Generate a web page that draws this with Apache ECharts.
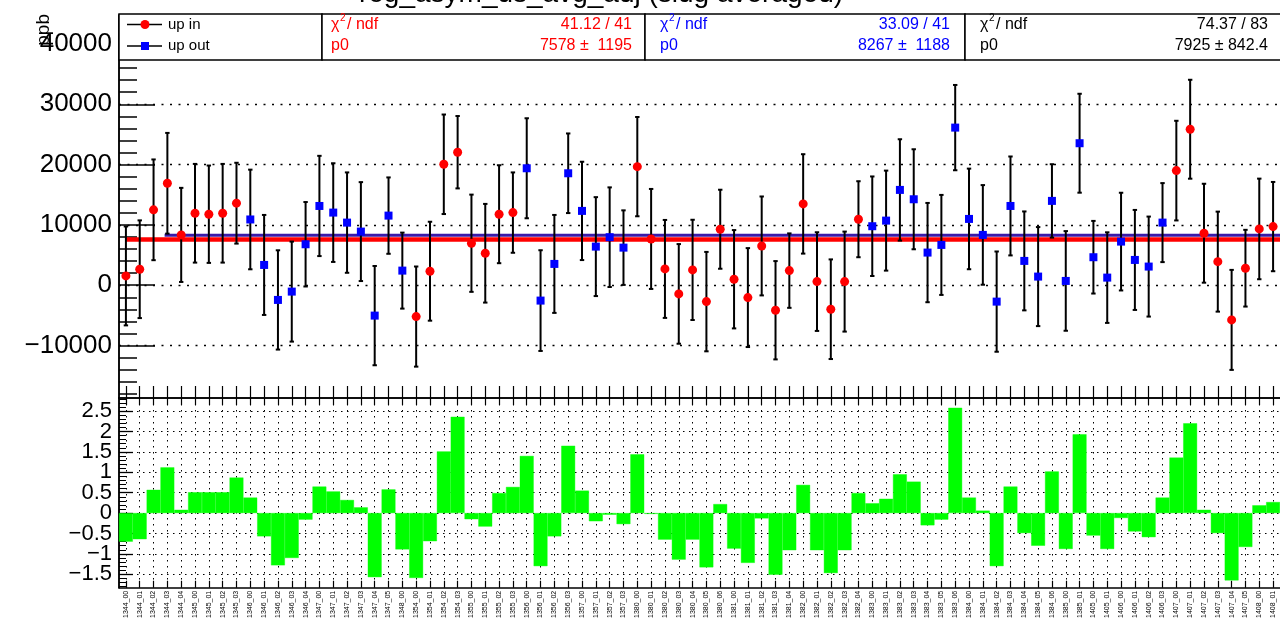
<!DOCTYPE html>
<html><head><meta charset="utf-8">
<script src="https://cdn.jsdelivr.net/npm/echarts@6/dist/echarts.min.js"></script>
<style>html,body{margin:0;padding:0;background:#fff;overflow:hidden}#c{width:1280px;height:621px}</style>
</head><body><div id="c"></div>
<script>
// ---------------- data ----------------
const categories = [
 '1344_00','1344_01','1344_02','1344_03','1344_04','1345_00','1345_01','1345_02','1345_03',
 '1346_00','1346_01','1346_02','1346_03','1346_04','1347_00','1347_01','1347_02','1347_03','1347_04','1347_05','1348_00',
 '1354_00','1354_01','1354_02','1354_03','1355_00','1355_01','1355_02','1355_03',
 '1356_00','1356_01','1356_02','1356_03','1357_00','1357_01','1357_02','1357_03',
 '1380_00','1380_01','1380_02','1380_03','1380_04','1380_05','1380_06','1381_00','1381_01','1381_02','1381_03','1381_04',
 '1382_00','1382_01','1382_02','1382_03','1382_04',
 '1383_00','1383_01','1383_02','1383_03','1383_04','1383_05','1383_06','1384_00','1384_01','1384_02','1384_03','1384_04','1384_05','1384_06',
 '1385_00','1385_01','1405_00','1405_01','1406_00','1406_01','1406_02','1406_03',
 '1407_00','1407_01','1407_02','1407_03','1407_04','1407_05','1408_00','1408_01'
];
const upIn = [
 1540,2650,12500,16900,8340,11930,11770,11930,13600,
 null,null,null,null,null,null,null,null,null,null,null,null,
 -5200,2320,20050,22050,6960,5300,11770,12040,
 null,null,null,null,null,null,null,null,
 19660,7670,2700,-1440,2540,-2720,9280,990,-2050,6510,-4150,2420,13480,600,-3980,600,10940,
 null,null,null,null,null,null,null,null,null,null,null,null,null,null,null,null,null,null,null,null,null,null,
 19000,25860,8620,3910,-5750,2820,9330,9720
];
const upInErr = [
 8200,8100,8350,8350,7800,8180,8070,8180,6700,
 null,null,null,null,null,null,null,null,null,null,null,null,
 8300,8200,8250,6000,8060,8180,8120,6660,
 null,null,null,null,null,null,null,null,
 8230,8290,8120,8260,8310,8240,6550,8150,8200,8200,8150,6170,8240,8180,8260,8290,6300,
 null,null,null,null,null,null,null,null,null,null,null,null,null,null,null,null,null,null,null,null,null,null,
 8260,8200,8200,8290,8290,6360,8340,7400
];
const upOut = [
 null,null,null,null,null,null,null,null,null,
 10900,3360,-2440,-1060,6790,13140,12040,10380,8890,-5040,11540,2420,
 null,null,null,null,null,null,null,null,
 19390,-2550,3530,18560,12320,6400,7960,6230,
 null,null,null,null,null,null,null,null,null,null,null,null,null,null,null,null,null,
 9780,10710,15800,14250,5410,6680,26130,10990,8340,-2720,13140,4030,1430,13980,710,23540,4640,1260,7230,4190,3090,10380,
 null,null,null,null,null,null,null,null
];
const upOutErr = [
 null,null,null,null,null,null,null,null,null,
 8260,8290,8230,8290,7000,8310,8180,8320,8200,8230,6330,6300,
 null,null,null,null,null,null,null,null,
 8290,8350,8120,6600,8150,8200,8260,6180,
 null,null,null,null,null,null,null,null,null,null,null,null,null,null,null,null,null,
 8250,8290,8400,8290,8230,8290,7070,8340,8260,8310,8200,8200,8210,6080,8260,8200,6020,7510,8100,8290,8290,6550,
 null,null,null,null,null,null,null,null
];
const residuals = [
 -0.70,-0.64,0.57,1.12,0.08,0.51,0.51,0.51,0.87,0.38,-0.57,-1.28,-1.10,-0.16,0.65,0.53,0.32,0.14,-1.57,0.58,-0.89,
 -1.59,-0.69,1.51,2.36,-0.15,-0.33,0.49,0.64,1.40,-1.30,-0.57,1.65,0.55,-0.20,-0.04,-0.27,
 1.44,-0.02,-0.65,-1.14,-0.65,-1.33,0.22,-0.87,-1.22,-0.13,-1.51,-0.91,0.69,-0.91,-1.47,-0.91,0.49,
 0.24,0.35,0.95,0.77,-0.30,-0.16,2.58,0.38,0.06,-1.30,0.65,-0.49,-0.80,1.02,-0.88,1.93,-0.55,-0.88,-0.12,-0.45,-0.59,0.38,
 1.36,2.20,0.08,-0.49,-1.65,-0.83,0.19,0.27
];
const fitUpIn = 7578, fitUpOut = 8267;
const fitUpOutStart = 2.8;
const statsUpIn  = ['41.12 / 41', '7578 \u00b1  1195'];
const statsUpOut = ['33.09 / 41', '8267 \u00b1  1188'];
const statsAll   = ['74.37 / 83', '7925 \u00b1 842.4'];
const topTicks = [-10000, 0, 10000, 20000, 30000, 40000];
const botTicks = [-1.5, -1, -0.5, 0, 0.5, 1, 1.5, 2, 2.5];
const botLabelsHalf = [-1.5, -0.5, 0.5, 1.5, 2.5];
const botLabelsWhole = [-1, 0, 1, 2];
const titleText = 'reg_asym_us_avg_adj (slug averaged)';
const yTitle = 'ppb';

// ---------------- helpers ----------------
const FONT = '"Liberation Sans", Arial, Helvetica, sans-serif';
const binIdx = categories.map((c, i) => i);
const topMinor = []; for (let v = -18000; v <= 44000; v += 2000) topMinor.push(v);
const botMinor = []; for (let k = -18; k <= 28; k++) botMinor.push(k / 10);
const minus = v => String(v).replace('-', '\u2212');
const pts = vals => vals.map((v, i) => v === null ? null : [i, v]).filter(d => d);
const bars = (vals, errs) => vals.map((v, i) => v === null ? null : [i, v - errs[i], v + errs[i]]).filter(d => d);

function errSeries(vals, errs) {
  return {
    type: 'custom', xAxisIndex: 0, yAxisIndex: 0, z: 3,
    encode: { x: 0, y: [1, 2] },
    data: bars(vals, errs),
    renderItem(params, api) {
      const x = api.value(0);
      const lo = api.coord([x, api.value(1)]);
      const hi = api.coord([x, api.value(2)]);
      const cw = 2.2, st = { stroke: '#000', lineWidth: 2 };
      return { type: 'group', children: [
        { type: 'line', shape: { x1: lo[0], y1: lo[1], x2: hi[0], y2: hi[1] }, style: st },
        { type: 'line', shape: { x1: lo[0] - cw, y1: lo[1], x2: lo[0] + cw, y2: lo[1] }, style: st },
        { type: 'line', shape: { x1: hi[0] - cw, y1: hi[1], x2: hi[0] + cw, y2: hi[1] }, style: st }
      ]};
    }
  };
}

const L = 119, W = 1165;
const axLine = { show: true, onZero: false, lineStyle: { color: '#000', width: 1.5 } };
const BOT_MIN = -1.83, BOT_MAX = 2.82;
const botLabelAxis = vals => ({
  gridIndex: 1, type: 'value', min: BOT_MIN, max: BOT_MAX, position: 'left',
  axisLine: { show: false, onZero: false }, axisTick: { show: false }, splitLine: { show: false },
  axisLabel: { show: true, customValues: vals, fontSize: 22, margin: 7, color: '#000', fontFamily: FONT,
               showMinLabel: true, showMaxLabel: true, formatter: minus }
});

const option = {
  animation: false,
  backgroundColor: '#fff',
  grid: [
    { left: L, top: 15, width: W, height: 383 },
    { left: L, top: 398, width: W, height: 190 }
  ],
  xAxis: [
    { gridIndex: 0, type: 'value', min: -0.5, max: 83.5, position: 'bottom',
      axisLine: axLine,
      axisTick: { show: true, inside: true, length: 12, customValues: binIdx, lineStyle: { color: '#000', width: 1.2 } },
      axisLabel: { show: false }, splitLine: { show: false } },
    { gridIndex: 1, type: 'value', min: -0.5, max: 83.5, position: 'bottom',
      axisLine: axLine,
      axisTick: { show: true, inside: true, length: 7, customValues: binIdx, lineStyle: { color: '#000', width: 1.2 } },
      axisLabel: { show: true, customValues: binIdx, rotate: 90, fontSize: 7, margin: 3, color: '#000', fontFamily: FONT,
                   showMinLabel: true, showMaxLabel: true, formatter: v => categories[Math.round(v)] },
      splitLine: { show: true, lineStyle: { color: '#000', type: [1.5, 4.5], width: 1 } } },
    { gridIndex: 1, type: 'value', min: -0.5, max: 83.5, position: 'top',
      axisLine: axLine,
      axisTick: { show: true, inside: true, length: 7, customValues: binIdx, lineStyle: { color: '#000', width: 1.2 } },
      axisLabel: { show: false }, splitLine: { show: false } }
  ],
  yAxis: [
    { gridIndex: 0, type: 'value', min: -18700, max: 44800, position: 'left',
      axisLine: axLine,
      axisTick: { show: true, inside: true, length: 36, customValues: topTicks, lineStyle: { color: '#000', width: 1.5 } },
      axisLabel: { show: true, customValues: topTicks, fontSize: 26, margin: 7, color: '#000', fontFamily: FONT,
                   showMinLabel: true, showMaxLabel: true, formatter: minus },
      splitLine: { show: true, lineStyle: { color: '#000', type: [2, 6.5], width: 1.3 } } },
    { gridIndex: 0, type: 'value', min: -18700, max: 44800, position: 'left',
      axisLine: axLine,
      axisTick: { show: true, inside: true, length: 18, customValues: topMinor, lineStyle: { color: '#000', width: 1.5 } },
      axisLabel: { show: false }, splitLine: { show: false } },
    { gridIndex: 1, type: 'value', min: BOT_MIN, max: BOT_MAX, position: 'left',
      axisLine: axLine,
      axisTick: { show: true, inside: true, length: 14, customValues: botTicks, lineStyle: { color: '#000', width: 1.3 } },
      axisLabel: { show: false },
      splitLine: { show: true, lineStyle: { color: '#000', type: [1.5, 4.5], width: 1.2 } } },
    { gridIndex: 1, type: 'value', min: BOT_MIN, max: BOT_MAX, position: 'left',
      axisLine: axLine,
      axisTick: { show: true, inside: true, length: 7, customValues: botMinor, lineStyle: { color: '#000', width: 1 } },
      axisLabel: { show: false }, splitLine: { show: false } },
    botLabelAxis(botLabelsHalf),
    botLabelAxis(botLabelsWhole)
  ],
  series: [
    { type: 'bar', xAxisIndex: 1, yAxisIndex: 2, barWidth: '100%', z: 1,
      itemStyle: { color: '#00ff00', borderColor: '#00ff00', borderWidth: 0.4 },
      data: residuals.map((r, i) => [i, r]) },
    { type: 'line', xAxisIndex: 0, yAxisIndex: 0, symbol: 'none', z: 2,
      lineStyle: { color: '#ff0000', width: 4.5 },
      data: [[0, fitUpIn], [83.5, fitUpIn]] },
    { type: 'line', xAxisIndex: 0, yAxisIndex: 0, symbol: 'none', z: 2,
      lineStyle: { color: '#3a1aa8', width: 3 },
      data: [[fitUpOutStart, fitUpOut], [83.5, fitUpOut]] },
    errSeries(upIn, upInErr),
    errSeries(upOut, upOutErr),
    { type: 'scatter', xAxisIndex: 0, yAxisIndex: 0, z: 4, symbol: 'circle', symbolSize: 9,
      itemStyle: { color: '#ff0000', opacity: 1 }, data: pts(upIn) },
    { type: 'scatter', xAxisIndex: 0, yAxisIndex: 0, z: 4, symbol: 'rect', symbolSize: 8,
      itemStyle: { color: '#0000ff', opacity: 1 }, data: pts(upOut) }
  ],
  graphic: []
};

// ---------------- title, axis title, stat boxes ----------------
const g = option.graphic;
const txt = (x, y, text, color, align, size) => ({
  type: 'text', x, y, z: 101,
  style: { text, fill: color, font: (size || 16) + 'px ' + FONT, align: align || 'left', verticalAlign: 'middle' }
});
g.push({ type: 'text', x: 601, y: 8, z: 101,
  style: { text: titleText, fill: '#000', font: '28px ' + FONT, align: 'center', verticalAlign: 'bottom' } });
g.push({ type: 'text', x: 44, y: 14, rotation: Math.PI / 2, z: 101,
  style: { text: yTitle, fill: '#000', font: '19px ' + FONT, align: 'right', verticalAlign: 'middle' } });

const boxes = [[119, 203], [322, 323], [645, 320], [965, 320]];
boxes.forEach(b => g.push({ type: 'rect', z: 100, shape: { x: b[0], y: 14, width: b[1], height: 46 },
  style: { fill: '#fff', stroke: '#000', lineWidth: 1.5 } }));
const r1 = 24.5, r2 = 46;
// legend box
g.push({ type: 'line', z: 101, shape: { x1: 127, y1: r1, x2: 162, y2: r1 }, style: { stroke: '#000', lineWidth: 1.5 } });
g.push({ type: 'line', z: 101, shape: { x1: 127, y1: r2, x2: 162, y2: r2 }, style: { stroke: '#000', lineWidth: 1.5 } });
g.push({ type: 'circle', z: 102, shape: { cx: 145, cy: r1, r: 4.5 }, style: { fill: '#ff0000' } });
g.push({ type: 'rect', z: 102, shape: { x: 141, y: r2 - 4, width: 8, height: 8 }, style: { fill: '#0000ff' } });
g.push(txt(168, r1, 'up in', '#000', 'left', 15));
g.push(txt(168, r2, 'up out', '#000', 'left', 15));
// stat boxes
function statBox(x0, x1, color, vals) {
  g.push(txt(x0, r1, '\u03c7', color, 'left', 16));
  g.push(txt(x0 + 9, r1 - 6, '2', color, 'left', 10));
  g.push(txt(x0 + 16, r1, '/ ndf', color, 'left', 16));
  g.push(txt(x0, r2, 'p0', color, 'left', 16));
  g.push(txt(x1, r1, vals[0], color, 'right', 16));
  g.push(txt(x1, r2, vals[1], color, 'right', 16));
}
statBox(331, 632, '#ff0000', statsUpIn);
statBox(660, 950, '#0000ff', statsUpOut);
statBox(980, 1268, '#000000', statsAll);

const chart = echarts.init(document.getElementById('c'), null, { renderer: 'canvas' });
chart.setOption(option);
</script>
</body></html>
